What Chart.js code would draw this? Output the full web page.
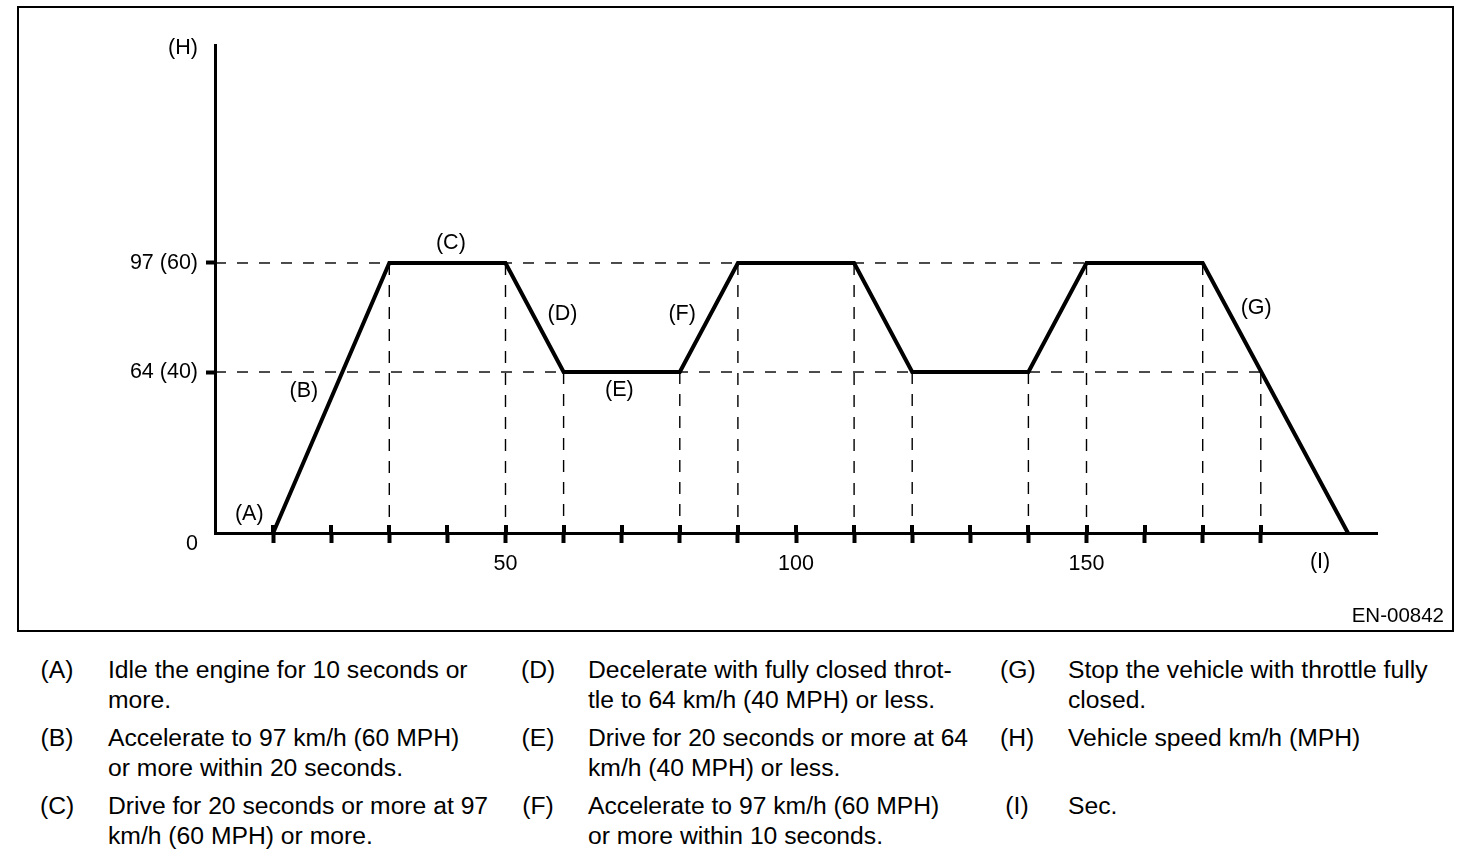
<!DOCTYPE html>
<html>
<head>
<meta charset="utf-8">
<script src="https://cdn.jsdelivr.net/npm/chart.js@4.4.1/dist/chart.umd.min.js"></script>
<style>
html, body { margin: 0; padding: 0; background: #fff; }
body { width: 1472px; height: 862px; position: relative; overflow: hidden;
       font-family: 'Liberation Sans', Arial, Helvetica, sans-serif; color: #000; }
#frame { position: absolute; left: 17px; top: 6px; width: 1437px; height: 626px;
         border: 2px solid #000; box-sizing: border-box; }
#wrap { position: absolute; left: 0; top: 0; width: 1472px; height: 640px; }
#code { position: absolute; right: 28px; top: 603px; font-size: 20.5px; line-height: 24px; }
.note { position: absolute; font-size: 24.7px; line-height: 30px; white-space: nowrap; }
.key { position: absolute; font-size: 24.7px; line-height: 30px; width: 34px; text-align: center; white-space: nowrap; }
</style>
</head>
<body>
<div id="frame"></div>
<div id="wrap"><canvas id="c" width="1472" height="640"></canvas></div>
<div id="code">EN-00842</div>
<div id="notes"></div>
<script>
// ---------------- data ----------------
const timeSec  = [10, 30, 50, 60, 80, 90, 110, 120, 140, 150, 170, 195];
const speedKmh = [0, 97, 97, 64, 64, 97, 97, 64, 64, 97, 97, 0];

const speedTickValues = [0, 64, 97];
const speedTickLabels = ['0', '64 (40)', '97 (60)'];

const timeTickValues = [10, 20, 30, 40, 50, 60, 70, 80, 90, 100, 110, 120, 130, 140, 150, 160, 170, 180];
const timeLabelledTicks = [50, 100, 150];

const levelGuideSpeeds = [97, 64];
const levelGuideEnds   = [170, 180];

const timeGuideTimes  = [30, 50, 60, 80, 90, 110, 120, 140, 150, 170, 180];
const timeGuideSpeeds = [97, 97, 64, 64, 97, 97, 64, 64, 97, 97, 64];

const phaseKeys = ['(A)', '(B)', '(C)', '(D)', '(E)', '(F)', '(G)'];
const speedAxisKey = '(H)';
const timeAxisKey = '(I)';

const noteKeys = ['(A)', '(B)', '(C)', '(D)', '(E)', '(F)', '(G)', '(H)', '(I)'];
const noteLines = [
  ['Idle the engine for 10 seconds or', 'more.'],
  ['Accelerate to 97 km/h (60 MPH)', 'or more within 20 seconds.'],
  ['Drive for 20 seconds or more at 97', 'km/h (60 MPH) or more.'],
  ['Decelerate with fully closed throt-', 'tle to 64 km/h (40 MPH) or less.'],
  ['Drive for 20 seconds or more at 64', 'km/h (40 MPH) or less.'],
  ['Accelerate to 97 km/h (60 MPH)', 'or more within 10 seconds.'],
  ['Stop the vehicle with throttle fully', 'closed.'],
  ['Vehicle speed km/h (MPH)'],
  ['Sec.']
];

// ---------------- notes below the figure ----------------
(function buildNotes() {
  const keyX = [40, 521, 1000];
  const textX = [108, 588, 1068];
  const rowTop = [655, 723, 791];
  const host = document.getElementById('notes');
  noteKeys.forEach((k, i) => {
    const col = Math.floor(i / 3), row = i % 3;
    const kd = document.createElement('div');
    kd.className = 'key';
    kd.style.left = keyX[col] + 'px';
    kd.style.top = rowTop[row] + 'px';
    kd.textContent = k;
    host.appendChild(kd);
    const td = document.createElement('div');
    td.className = 'note';
    td.style.left = textX[col] + 'px';
    td.style.top = rowTop[row] + 'px';
    td.innerHTML = noteLines[i].map(s => s.replace(/&/g, '&amp;').replace(/</g, '&lt;')).join('<br>');
    host.appendChild(td);
  });
})();

// ---------------- schematic (piecewise) speed scale ----------------
// The drawing is schematic: the 64 and 97 levels sit at fixed fractions of the axis height.
const SPEED_AXIS_KNOTS = { values: [0, 64, 97, 175], fractions: [0, 0.3299, 0.5533, 1] };

class SchematicSpeedScale extends Chart.LinearScale {
  static id = 'schematicSpeed';
  determineDataLimits() {
    const v = SPEED_AXIS_KNOTS.values;
    this.min = v[0];
    this.max = v[v.length - 1];
  }
  buildTicks() {
    return speedTickValues.map(v => ({ value: v }));
  }
  _toDecimal(value) {
    const v = SPEED_AXIS_KNOTS.values, f = SPEED_AXIS_KNOTS.fractions;
    if (value <= v[0]) return f[0] + (value - v[0]) * (f[1] - f[0]) / (v[1] - v[0]);
    for (let i = 1; i < v.length; i++) {
      if (value <= v[i] || i === v.length - 1) {
        return f[i - 1] + (value - v[i - 1]) * (f[i] - f[i - 1]) / (v[i] - v[i - 1]);
      }
    }
    return 1;
  }
  _fromDecimal(dec) {
    const v = SPEED_AXIS_KNOTS.values, f = SPEED_AXIS_KNOTS.fractions;
    for (let i = 1; i < f.length; i++) {
      if (dec <= f[i] || i === f.length - 1) {
        return v[i - 1] + (dec - f[i - 1]) * (v[i] - v[i - 1]) / (f[i] - f[i - 1]);
      }
    }
    return v[v.length - 1];
  }
  getPixelForValue(value) {
    if (value === null || value === undefined || Number.isNaN(value)) return NaN;
    return this.getPixelForDecimal(this._toDecimal(value));
  }
  getValueForPixel(pixel) {
    return this._fromDecimal(this.getDecimalForPixel(pixel));
  }
}
Chart.register(SchematicSpeedScale);

// ---------------- datasets ----------------
const FONT_FAMILY = "'Liberation Sans', Arial, Helvetica, sans-serif";
Chart.defaults.font.family = FONT_FAMILY;
Chart.defaults.color = '#000';

const datasets = [];
datasets.push({
  label: 'Vehicle speed',
  data: timeSec.map((t, i) => ({ x: t, y: speedKmh[i] })),
  borderColor: '#000',
  borderWidth: 4,
  borderJoinStyle: 'miter',
  borderCapStyle: 'butt',
  pointRadius: 0,
  tension: 0,
  fill: false,
  clip: false,
  order: 0
});
levelGuideSpeeds.forEach((s, i) => {
  datasets.push({
    label: 'level ' + s,
    data: [{ x: 0, y: s }, { x: levelGuideEnds[i], y: s }],
    borderColor: '#000',
    borderWidth: 1.4,
    borderDash: [11, 11],
    pointRadius: 0,
    tension: 0,
    fill: false,
    clip: false,
    order: 1
  });
});
timeGuideTimes.forEach((t, i) => {
  datasets.push({
    label: 'time ' + t,
    data: [{ x: t, y: timeGuideSpeeds[i] }, { x: t, y: 0 }],
    borderColor: '#000',
    borderWidth: 1.4,
    borderDash: [12, 10],
    pointRadius: 0,
    tension: 0,
    fill: false,
    clip: false,
    order: 2
  });
});

// ---------------- annotation plugin ----------------
const LABEL_FONT = '21.5px ' + FONT_FAMILY;
const phasePlacement = [
  { t: 5.9,   v: 0,  dy: -19 },
  { t: 15.3,  v: 64, dy: 19 },
  { t: 40.6,  v: 97, dy: -20 },
  { t: 59.8,  v: 97, dy: 51 },
  { t: 69.6,  v: 64, dy: 18 },
  { t: 80.4,  v: 97, dy: 51 },
  { t: 179.2, v: 97, dy: 45 }
];

const annotationPlugin = {
  id: 'schematicAnnotations',
  afterDraw(chart) {
    const { ctx, chartArea, scales } = chart;
    const xs = scales.x, ys = scales.y;
    ctx.save();
    // upper half of the time-axis tick marks (they cross the axis line)
    ctx.strokeStyle = '#000';
    ctx.lineWidth = 4;
    ctx.lineCap = 'butt';
    xs.ticks.forEach((tk, i) => {
      const px = Math.round(xs.getPixelForTick(i) - 2) + 2;
      ctx.beginPath();
      ctx.moveTo(px, chartArea.bottom - 8);
      ctx.lineTo(px, chartArea.bottom);
      ctx.stroke();
    });
    // phase letters
    ctx.fillStyle = '#000';
    ctx.font = LABEL_FONT;
    ctx.textAlign = 'center';
    ctx.textBaseline = 'middle';
    phaseKeys.forEach((k, i) => {
      const p = phasePlacement[i];
      ctx.fillText(k, xs.getPixelForValue(p.t), ys.getPixelForValue(p.v) + p.dy);
    });
    // axis keys
    ctx.fillText(speedAxisKey, chartArea.left - 32, chartArea.top + 3);
    ctx.fillText(timeAxisKey, xs.getPixelForValue(190.2), ys.getPixelForValue(0) + 29);
    ctx.restore();
  }
};

// ---------------- chart ----------------
new Chart(document.getElementById('c'), {
  type: 'line',
  data: { datasets },
  plugins: [annotationPlugin],
  options: {
    responsive: false,
    animation: false,
    events: [],
    layout: { padding: { top: 45, right: 95, left: 0, bottom: 0 } },
    plugins: { legend: { display: false }, tooltip: { enabled: false }, title: { display: false } },
    scales: {
      x: {
        type: 'linear',
        min: 0,
        max: 200,
        bounds: 'data',
        afterBuildTicks: (scale) => { scale.ticks = timeTickValues.map(v => ({ value: v })); },
        afterFit: (scale) => { scale.height = 107; },
        ticks: {
          autoSkip: false,
          maxRotation: 0,
          padding: 8,
          font: { size: 21.5, family: FONT_FAMILY },
          color: '#000',
          callback: (v) => timeLabelledTicks.includes(v) ? String(v) : ''
        },
        grid: {
          display: true,
          drawOnChartArea: false,
          drawTicks: true,
          tickLength: 10,
          tickWidth: 4,
          tickColor: '#000'
        },
        border: { display: true, width: 3, color: '#000' }
      },
      y: {
        type: 'schematicSpeed',
        position: 'left',
        afterFit: (scale) => { scale.width = 215; },
        ticks: {
          autoSkip: false,
          padding: 8,
          font: { size: 21.5, family: FONT_FAMILY, lineHeight: 1 },
          color: '#000',
          callback: (v, i) => {
            const idx = speedTickValues.indexOf(v);
            const lbl = idx >= 0 ? speedTickLabels[idx] : '';
            return v === 0 ? ['', lbl] : lbl;
          }
        },
        grid: {
          display: true,
          drawOnChartArea: false,
          drawTicks: true,
          tickLength: 9,
          tickWidth: 4,
          tickColor: (ctx) => (ctx.tick && ctx.tick.value === 0) ? 'rgba(0,0,0,0)' : '#000'
        },
        border: { display: true, width: 3, color: '#000' }
      }
    }
  }
});
</script>
</body>
</html>
